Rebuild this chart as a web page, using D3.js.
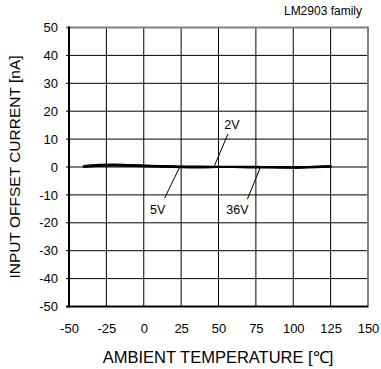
<!DOCTYPE html>
<html>
<head>
<meta charset="utf-8">
<script src="https://cdn.jsdelivr.net/npm/d3@7"></script>
<style>
  body { margin: 0; background: #fff; }
  svg { display: block; font-family: "Liberation Sans", Arial, sans-serif; }
</style>
</head>
<body>
<svg id="chart" width="381" height="369"></svg>
<script>
// Ambient temperature sample points [°C]
const temps = [-40, -30, -20, -10, 0, 10, 20, 30, 40, 50, 60, 70, 80, 90, 100, 110, 125];
// Input offset current [nA] per supply voltage
const offset2V  = [0.3, 0.8, 0.9, 0.7, 0.5, 0.35, 0.2, 0.1, 0.1, 0.05, 0.05, 0.05, 0.0, 0.0, -0.1, 0.0, 0.2];
const offset5V  = [0.2, 0.6, 0.7, 0.6, 0.4, 0.2, 0.0, -0.1, -0.1, 0.0, 0.0, 0.0, 0.0, -0.1, -0.2, -0.1, 0.1];
const offset36V = [0.1, 0.5, 0.6, 0.5, 0.3, 0.2, 0.1, 0.0, 0.0, 0.0, 0.0, -0.1, -0.1, -0.1, -0.1, 0.0, 0.2];
const seriesNames = ["2V", "5V", "36V"];
// Temperatures where each curve label's leader line meets the curve
const labelTemps = [47, 24, 78];
const xTicks = [-50, -25, 0, 25, 50, 75, 100, 125, 150];
const yTicks = [-50, -40, -30, -20, -10, 0, 10, 20, 30, 40, 50];

const svg = d3.select("#chart");
const pLeft = 69, pRight = 368, pTop = 27.5, pBottom = 306.5;

const x = d3.scaleLinear().domain([-50, 150]).range([pLeft, pRight]);
const y = d3.scaleLinear().domain([-50, 50]).range([pBottom, pTop]);

// Grid
const grid = svg.append("g").attr("stroke", "#000").attr("stroke-width", 1);
grid.selectAll("line.v").data(xTicks.slice(1, -1)).join("line")
  .attr("class", "v")
  .attr("x1", d => x(d)).attr("x2", d => x(d))
  .attr("y1", pTop).attr("y2", pBottom);
grid.selectAll("line.h").data(yTicks.slice(1, -1)).join("line")
  .attr("class", "h")
  .attr("x1", pLeft - 3).attr("x2", pRight)
  .attr("y1", d => y(d)).attr("y2", d => y(d));

// Frame: top and right grey, left and bottom black
svg.append("line").attr("x1", pLeft - 3).attr("x2", pRight).attr("y1", pTop).attr("y2", pTop)
  .attr("stroke", "#808080").attr("stroke-width", 2);
svg.append("line").attr("x1", pRight).attr("x2", pRight).attr("y1", pTop - 1).attr("y2", pBottom + 1)
  .attr("stroke", "#808080").attr("stroke-width", 2);
svg.append("line").attr("x1", pLeft).attr("x2", pLeft).attr("y1", pTop - 1).attr("y2", pBottom + 1)
  .attr("stroke", "#000").attr("stroke-width", 2);
svg.append("line").attr("x1", pLeft - 3).attr("x2", pRight).attr("y1", pBottom).attr("y2", pBottom)
  .attr("stroke", "#000").attr("stroke-width", 2);

// Axis labels via d3 axes (domain and tick lines hidden), plain hyphen minus
const fmt = d => String(d);
const yAxis = svg.append("g").attr("transform", `translate(${pLeft},0)`)
  .call(d3.axisLeft(y).tickValues(yTicks).tickFormat(fmt).tickSize(0).tickPadding(11));
const xAxis = svg.append("g").attr("transform", `translate(0,${pBottom})`)
  .call(d3.axisBottom(x).tickValues(xTicks).tickFormat(fmt).tickSize(0).tickPadding(17));
[xAxis, yAxis].forEach(a => {
  a.select(".domain").remove();
  a.selectAll("text").attr("font-size", 13).attr("fill", "#000")
    .attr("font-family", "'Liberation Sans', Arial, sans-serif");
});

// Curves
const line = d3.line().x((d, i) => x(temps[i])).y(d => y(d)).curve(d3.curveMonotoneX);
const allSeries = [offset2V, offset5V, offset36V];
svg.append("g").selectAll("path").data(allSeries).join("path")
  .attr("d", d => line(d))
  .attr("fill", "none").attr("stroke", "#000").attr("stroke-width", 2.2)
  .attr("stroke-linecap", "round");

// Curve labels with leader lines
const labelOffsets = [
  { lx: 14, ly: -33, tx: 18, ty: -38 },
  { lx: -15, ly: 31, tx: -22, ty: 47 },
  { lx: -13, ly: 32, tx: -23, ty: 47 }
];
const interp = (arr, t) => {
  const i = d3.bisectRight(temps, t) - 1;
  const f = (t - temps[i]) / (temps[i + 1] - temps[i]);
  return arr[i] + f * (arr[i + 1] - arr[i]);
};
seriesNames.forEach((name, k) => {
  const t = labelTemps[k];
  const px = x(t), py = y(interp(allSeries[k], t));
  const o = labelOffsets[k];
  svg.append("line").attr("x1", px).attr("y1", py)
    .attr("x2", px + o.lx).attr("y2", py + o.ly)
    .attr("stroke", "#000").attr("stroke-width", 1);
  svg.append("text").attr("x", px + o.tx).attr("y", py + o.ty)
    .attr("text-anchor", "middle").attr("font-size", 12.5).text(name);
});

// Titles
svg.append("text").attr("x", 362).attr("y", 15).attr("text-anchor", "end")
  .attr("font-size", 12).text("LM2903 family");
svg.append("text").attr("x", 218).attr("y", 363).attr("text-anchor", "middle")
  .attr("font-size", 16.5).text("AMBIENT TEMPERATURE [℃]");
svg.append("text").attr("transform", `translate(20,${(pTop + pBottom) / 2}) rotate(-90)`)
  .attr("text-anchor", "middle").attr("font-size", 15.5).text("INPUT OFFSET CURRENT [nA]");
</script>
</body>
</html>
